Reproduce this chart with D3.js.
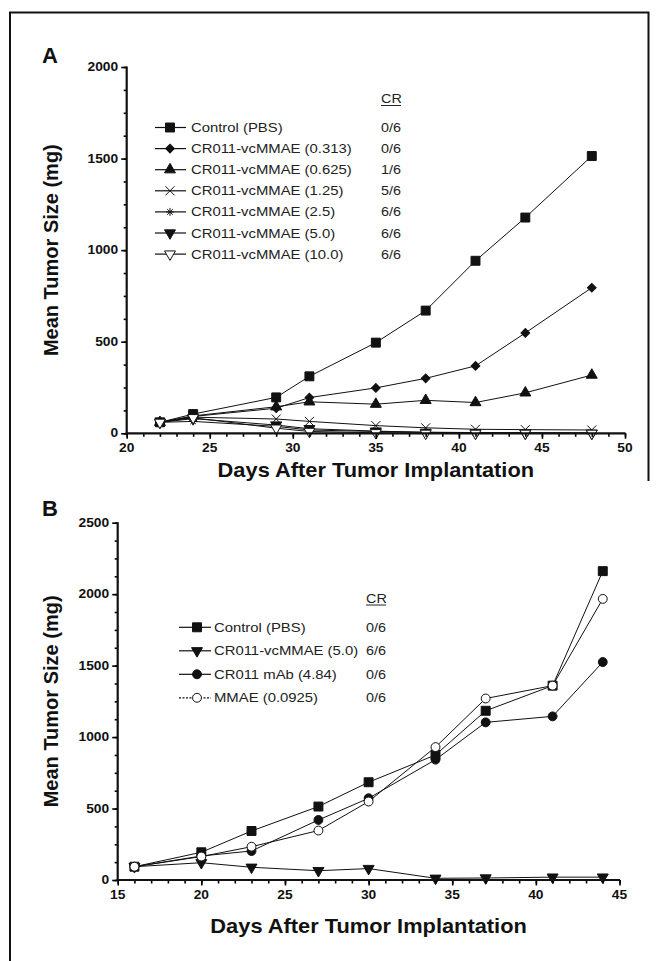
<!DOCTYPE html>
<html lang="en">
<head>
<meta charset="UTF-8">
<title>Mean Tumor Size</title>
<script src="https://cdn.jsdelivr.net/npm/d3@7"></script>
<style>
    body { margin: 0; background: #fff; }
    svg { display: block; }
    text { font-family: "Liberation Sans", Arial, sans-serif; }
</style>
</head>
<body>
<div id="chart"></div>
<script>
// ---- panel A data ----
const daysA = [22, 24, 29, 31, 35, 38, 41, 44, 48];
const controlA = [60, 105, 196, 311, 495, 670, 942, 1178, 1514];
const dose0313A = [60, 92, 137, 195, 248, 300, 368, 548, 795];
const dose0625A = [60, 95, 145, 172, 159, 180, 168, 221, 318];
const dose125A = [60, 88, 78, 65, 42, 30, 22, 20, 18];
const dose25A = [60, 65, 38, 18, 10, 6, 4, 3, 2];
const dose50A = [60, 80, 45, 25, 12, 5, 2, 0, 0];
const dose100A = [60, 85, 28, 10, 3, 0, 0, 0, 0];
const labelsA = ['Control (PBS)', 'CR011-vcMMAE (0.313)', 'CR011-vcMMAE (0.625)', 'CR011-vcMMAE (1.25)',
    'CR011-vcMMAE (2.5)', 'CR011-vcMMAE (5.0)', 'CR011-vcMMAE (10.0)'];
const crA = ['0/6', '0/6', '1/6', '5/6', '6/6', '6/6', '6/6'];
const xTicksA = [20, 25, 30, 35, 40, 45, 50];
const yTicksA = [0, 500, 1000, 1500, 2000];

// ---- panel B data ----
const daysB = [16, 20, 23, 27, 30, 34, 37, 41, 44];
const controlB = [93, 194, 343, 514, 684, 875, 1184, 1360, 2161];
const vcmmaeB = [93, 121, 89, 65, 80, 12, 14, 20, 20];
const mabB = [93, 168, 203, 420, 572, 842, 1103, 1145, 1525];
const mmaeB = [93, 164, 233, 346, 549, 930, 1270, 1360, 1967];
const labelsB = ['Control (PBS)', 'CR011-vcMMAE (5.0)', 'CR011 mAb (4.84)', 'MMAE (0.0925)'];
const crB = ['0/6', '6/6', '0/6', '0/6'];
const xTicksB = [15, 20, 25, 30, 35, 40, 45];
const yTicksB = [0, 500, 1000, 1500, 2000, 2500];

const W = 657, H = 961;
const INK = '#111';

const svg = d3.select('#chart').append('svg')
    .attr('width', W).attr('height', H);

// frame (left + top run full length, right side only beside panel A)
svg.append('path')
    .attr('d', `M10,${H} V12.5 H648.5 V481`)
    .attr('fill', 'none').attr('stroke', INK).attr('stroke-width', 2);

// text helper - the original type is set a bit wide, so allow a horizontal stretch
function label(g, x, y, str, o) {
    return g.append('text')
        .attr('transform', `translate(${x},${y}) scale(${o.sx || 1},1)`)
        .attr('text-anchor', o.anchor || 'start')
        .attr('font-size', o.size)
        .attr('font-weight', o.weight || 'normal')
        .attr('fill', o.fill || INK)
        .text(str);
}

function xPath(s) {
    return `M${-s},${-s}L${s},${s}M${-s},${s}L${s},${-s}`;
}
function starPath(s) {
    const d = s * 0.7;
    return `M0,${-s}V${s}M${-d},${-d}L${d},${d}M${-d},${d}L${d},${-d}M${-s},0H${s}`;
}

function marker(g, type, x, y) {
    const p = g.append('path').attr('stroke', INK).attr('stroke-width', 1);
    let rot = 0;
    switch (type) {
        case 'square': p.attr('d', d3.symbol(d3.symbolSquare, 80)()).attr('fill', INK); break;
        case 'diamond': p.attr('d', d3.symbol(d3.symbolSquare, 38)()).attr('fill', INK); rot = 45; break;
        case 'triUp': p.attr('d', d3.symbol(d3.symbolTriangle, 52)()).attr('fill', INK); break;
        case 'triDown': p.attr('d', d3.symbol(d3.symbolTriangle, 52)()).attr('fill', INK); rot = 180; break;
        case 'triDownOpen': p.attr('d', d3.symbol(d3.symbolTriangle, 52)()).attr('fill', '#fff'); rot = 180; break;
        case 'x': p.attr('d', xPath(4.5)).attr('fill', 'none'); break;
        case 'star': p.attr('d', starPath(4)).attr('fill', 'none'); break;
        case 'circle': p.attr('d', d3.symbol(d3.symbolCircle, 62)()).attr('fill', INK); break;
        case 'circleOpen': p.attr('d', d3.symbol(d3.symbolCircle, 62)()).attr('fill', '#fff'); break;
    }
    p.attr('transform', `translate(${x},${y}) rotate(${rot})`);
}

function drawPanel(cfg) {
    const g = svg.append('g');
    const x = d3.scaleLinear().domain(cfg.xDomain).range(cfg.xRange);
    const y = d3.scaleLinear().domain(cfg.yDomain).range(cfg.yRange);

    // panel letter
    label(g, 42, cfg.letterY, cfg.letter, { size: 22, weight: 'bold' });

    const xAxisY = y(cfg.yDomain[0]), yAxisX = x(cfg.xDomain[0]);

    // series first, axes drawn over them (markers at zero sit on the axis)
    const line = d3.line().x((d, i) => x(cfg.days[i])).y(d => y(d));
    cfg.series.forEach(vals => {
        g.append('path').datum(vals).attr('d', line)
            .attr('fill', 'none').attr('stroke', INK).attr('stroke-width', 1);
    });
    cfg.series.forEach((vals, k) => {
        vals.forEach((v, i) => marker(g, cfg.markers[k], x(cfg.days[i]), y(v)));
    });

    // axes: minor ticks, major ticks, then the thick axis lines
    g.append('g').attr('transform', `translate(0,${xAxisY})`)
        .call(d3.axisBottom(x).tickValues(d3.range(cfg.xDomain[0], cfg.xDomain[1] + 1, 1))
            .tickSize(3.5).tickFormat(''))
        .call(s => s.select('.domain').remove())
        .call(s => s.selectAll('line').attr('stroke-width', 1.6));
    g.append('g').attr('transform', `translate(0,${xAxisY})`)
        .call(d3.axisBottom(x).tickValues(cfg.xTicks).tickSize(5.5).tickFormat(''))
        .call(s => s.select('.domain').remove())
        .call(s => s.selectAll('line').attr('stroke-width', 1.6));
    g.append('g').attr('transform', `translate(${yAxisX},0)`)
        .call(d3.axisLeft(y).tickValues(d3.range(cfg.yDomain[0], cfg.yDomain[1] + 1, 125))
            .tickSize(3).tickFormat(''))
        .call(s => s.select('.domain').remove())
        .call(s => s.selectAll('line').attr('stroke-width', 1.6));
    g.append('g').attr('transform', `translate(${yAxisX},0)`)
        .call(d3.axisLeft(y).tickValues(cfg.yTicks).tickSize(5.5).tickFormat(''))
        .call(s => s.select('.domain').remove())
        .call(s => s.selectAll('line').attr('stroke-width', 1.6));

    const ax = g.append('g').attr('stroke', INK).attr('fill', 'none');
    ax.append('line').attr('x1', yAxisX - 1).attr('x2', x(cfg.xDomain[1]) + 0.5)
        .attr('y1', xAxisY).attr('y2', xAxisY).attr('stroke-width', 2.2);
    ax.append('line').attr('x1', yAxisX).attr('x2', yAxisX)
        .attr('y1', xAxisY + 1).attr('y2', y(cfg.yDomain[1]) - 0.5).attr('stroke-width', 2.2);

    cfg.xTicks.forEach(t => label(g, x(t), xAxisY + 19, t, { size: 12, weight: 'bold', anchor: 'middle', sx: 1.15 }));
    cfg.yTicks.forEach(t => label(g, yAxisX - 8.5, y(t) + 4, t, { size: 12, weight: 'bold', anchor: 'end', sx: 1.15 }));

    // axis titles
    label(g, (cfg.xRange[0] + cfg.xRange[1]) / 2, cfg.xTitleY, 'Days After Tumor Implantation',
        { size: 19.5, weight: 'bold', anchor: 'middle', sx: 1.12 });
    g.append('text')
        .attr('transform', `translate(58,${(cfg.yRange[0] + cfg.yRange[1]) / 2}) rotate(-90)`)
        .attr('text-anchor', 'middle').attr('font-size', 20).attr('font-weight', 'bold')
        .attr('fill', INK).text('Mean Tumor Size (mg)');

    // legend
    const lg = cfg.legend;
    label(g, lg.crX, lg.headY, 'CR', { size: 12.5, fill: '#222', sx: 1.15 });
    g.append('line').attr('x1', lg.crX).attr('x2', lg.crX + 20)
        .attr('y1', lg.headY + 2.5).attr('y2', lg.headY + 2.5)
        .attr('stroke', '#222').attr('stroke-width', 1);
    cfg.labels.forEach((name, k) => {
        const ry = lg.y0 + k * lg.step;
        g.append('line').attr('x1', lg.x0).attr('x2', lg.x1).attr('y1', ry).attr('y2', ry)
            .attr('stroke', INK).attr('stroke-width', 1.2)
            .attr('stroke-dasharray', (lg.dashed || []).includes(k) ? '2,1.5' : null);
        marker(g, cfg.markers[k], lg.mx, ry);
        label(g, lg.tx, ry + 4.5, name, { size: 12.5, fill: '#222', sx: 1.19 });
        label(g, lg.crX, ry + 4.5, cfg.cr[k], { size: 12.5, fill: '#222', sx: 1.15 });
    });
}

drawPanel({
    letter: 'A', letterY: 63,
    xDomain: [20, 50], xRange: [126.7, 625],
    yDomain: [0, 2000], yRange: [433.3, 67],
    xTicks: xTicksA, yTicks: yTicksA, xTitleY: 477,
    days: daysA,
    series: [controlA, dose0313A, dose0625A, dose125A, dose25A, dose50A, dose100A],
    markers: ['square', 'diamond', 'triUp', 'x', 'star', 'triDown', 'triDownOpen'],
    labels: labelsA, cr: crA,
    legend: { x0: 155, x1: 186, mx: 170, tx: 191, crX: 381, headY: 103, y0: 127.5, step: 21.1 }
});

drawPanel({
    letter: 'B', letterY: 516,
    xDomain: [15, 45], xRange: [117.7, 619.5],
    yDomain: [0, 2500], yRange: [880, 522.7],
    xTicks: xTicksB, yTicks: yTicksB, xTitleY: 933,
    days: daysB,
    series: [controlB, vcmmaeB, mabB, mmaeB],
    markers: ['square', 'triDown', 'circle', 'circleOpen'],
    labels: labelsB, cr: crB,
    legend: { x0: 179, x1: 211, mx: 197, tx: 214, crX: 366, headY: 602.5, y0: 627.3, step: 23.5, dashed: [3] }
});
</script>
</body>
</html>
